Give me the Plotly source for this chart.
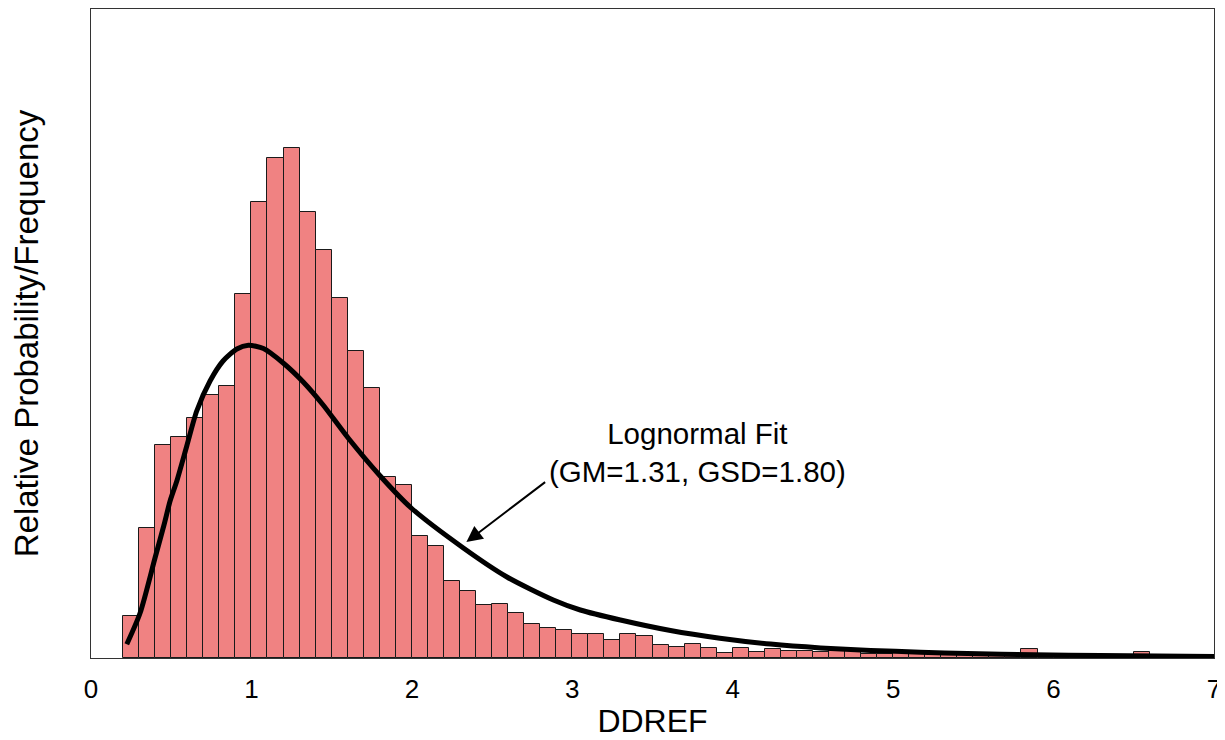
"""DDREF histogram with lognormal fit overlay."""

import plotly.graph_objects as go

# histogram bins (left edges, width 0.1) and relative frequency
bin_left = [round(0.2 + 0.1 * i, 1) for i in range(48)]
bin_width = 0.1
freq = [
    42, 130, 213, 221, 240, 263, 272, 364, 456, 500,
    510, 446, 408, 360, 307, 270, 181, 173, 122, 112,
    77, 67, 53, 54, 45, 34, 30, 28, 24, 24,
    18, 24, 22, 12.7, 11, 14, 9.7, 5, 10, 6,
    8.7, 7, 7, 6, 8, 7.7, 4, 4.3,
]
tail_left = [round(5.0 + 0.1 * i, 1) for i in range(20)]
tail_freq = [
    6, 6, 5, 4.7, 4.7, 4, 3.3, 4, 9, 4,
    3, 2.3, 2, 2, 2, 6, 2, 1.7, 1.7, 1.5,
]
bin_left = bin_left + tail_left
freq = freq + tail_freq

# lognormal fit curve
fit_x = [0.223, 0.306, 0.399, 0.455, 0.493, 0.535, 0.597, 0.659, 0.742, 0.823,
         0.909, 0.981, 1.075, 1.198, 1.323, 1.447, 1.603, 1.803, 1.996, 2.321,
         2.593, 2.882, 3.05, 3.30, 3.612, 3.92, 4.236, 4.548, 4.86, 5.17,
         5.463, 5.877, 6.294, 7.0]
fit_y = [13.7, 45, 100, 133, 157, 177, 212, 247, 277, 297,
         309, 312.7, 309.5, 295, 276, 253, 220, 182, 150, 110,
         81, 58, 48, 38, 27.5, 19.8, 13.9, 10.1, 7.6, 5.8,
         4.4, 3.2, 2.4, 1.6]

FONT = "Liberation Sans, Arial, Helvetica, sans-serif"

fig = go.Figure()
fig.add_trace(
    go.Bar(
        x=bin_left,
        y=freq,
        width=bin_width,
        offset=0,
        marker=dict(color="#f08282", line=dict(color="#1a1a1a", width=1)),
        showlegend=False,
    )
)
fig.add_trace(
    go.Scatter(
        x=fit_x,
        y=fit_y,
        mode="lines",
        line=dict(color="black", width=5, shape="spline", smoothing=0.7),
        showlegend=False,
    )
)

fig.add_annotation(
    x=3.78, y=206, xref="x", yref="y",
    text="Lognormal Fit<br>(GM=1.31, GSD=1.80)",
    showarrow=False,
    font=dict(family=FONT, size=29.5, color="black"),
    align="center",
)
fig.add_annotation(
    x=2.34, y=116, xref="x", yref="y",
    ax=2.84, ay=177, axref="x", ayref="y",
    text="",
    showarrow=True,
    arrowhead=2, arrowsize=1.6, arrowwidth=2, arrowcolor="black",
)

# page body adds an 8px offset, so the figure is sized to fit inside the window
fig.update_layout(
    width=1217,
    height=732,
    margin=dict(l=83, r=11, t=1, b=82),
    plot_bgcolor="white",
    paper_bgcolor="white",
    bargap=0,
    font=dict(family=FONT, color="black"),
    xaxis=dict(
        range=[0, 7],
        tickvals=[0, 1, 2, 3, 4, 5, 6, 7],
        ticks="",
        ticklabelstandoff=8,
        tickfont=dict(size=26),
        title=dict(text="DDREF", font=dict(size=32), standoff=6),
        automargin=False,
        showgrid=False,
        zeroline=False,
        showline=True,
        linecolor="#333333",
        linewidth=1,
        mirror=True,
    ),
    yaxis=dict(
        range=[0, 649],
        showticklabels=False,
        ticks="",
        title=dict(text="Relative Probability/Frequency", font=dict(size=33), standoff=42),
        automargin=False,
        showgrid=False,
        zeroline=False,
        showline=True,
        linecolor="#333333",
        linewidth=1,
        mirror=True,
    ),
)

fig.write_html("out.html")
